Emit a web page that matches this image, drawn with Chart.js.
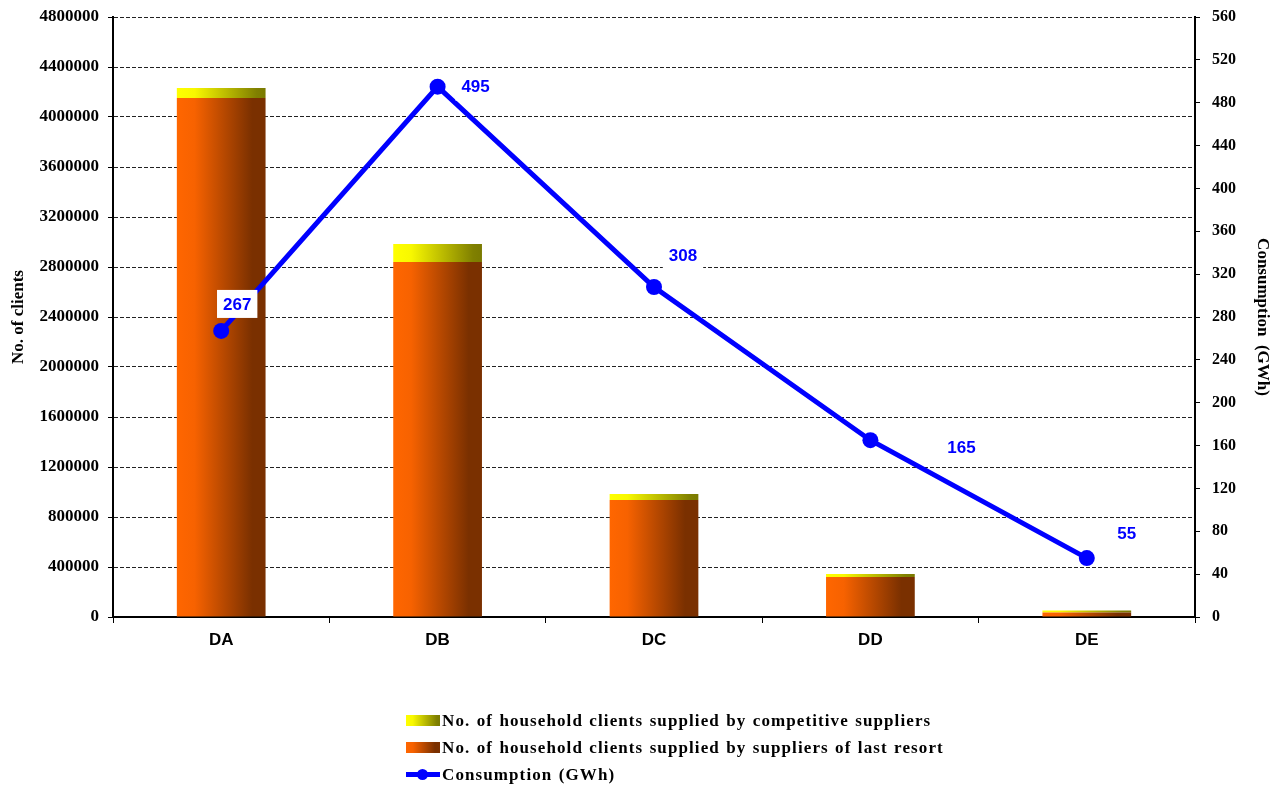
<!DOCTYPE html>
<html>
<head>
<meta charset="utf-8">
<script src="https://cdn.jsdelivr.net/npm/chart.js@4"></script>
<style>
  html, body { margin: 0; padding: 0; background: #fff; }
  #wrap { position: relative; width: 1285px; height: 787px; }
  #legend {
    position: absolute; left: 406px; top: 707px;
    font: bold 17px "Liberation Serif", "Times New Roman", serif; color: #000;
    letter-spacing: 1.1px; word-spacing: 1px; white-space: nowrap;
  }
  .item { display: flex; align-items: center; height: 27px; }
  .box { width: 34px; height: 11px; margin-right: 2px; }
  .lineKey { width: 34px; height: 11px; margin-right: 2px; position: relative; }
  .lineKey::before { content: ""; position: absolute; left: 0; right: 0; top: 3px; height: 5px; background: #0000ff; }
  .lineKey::after { content: ""; position: absolute; left: 11px; top: 0; width: 11px; height: 11px; border-radius: 50%; background: #0000ff; }
</style>
</head>
<body>
<div id="wrap">
  <canvas id="chart" width="1285" height="787"></canvas>
  <div id="legend">
    <div class="item"><span class="box" style="background:linear-gradient(to right,#ffff00 0%,#f8f800 20%,#808000 90%,#7a7a00 100%)"></span>No. of household clients supplied by competitive suppliers</div>
    <div class="item"><span class="box" style="background:linear-gradient(to right,#ff6600 0%,#f76200 20%,#7a3000 85%,#7a3000 100%)"></span>No. of household clients supplied by suppliers of last resort</div>
    <div class="item"><span class="lineKey"></span>Consumption (GWh)</div>
  </div>
</div>
<script>
  // ---------- Data ----------
  const regions = ["DA", "DB", "DC", "DD", "DE"];
  const lastResortClients = [4152000, 2840000, 936000, 320000, 36000];
  const competitiveClients = [80000, 144000, 48000, 24000, 16000];
  const consumptionGWh = [267, 495, 308, 165, 55];

  // label offsets for the consumption values (px from the point)
  const labelOffsets = [[16, -27], [38, 0], [29, -32], [91, 7], [40, -25]];

  const BAR_PCT = 0.41;
  const serif = '"Liberation Serif", "Times New Roman", serif';
  const sans = '"Liberation Sans", Arial, sans-serif';

  // horizontal gradient across each bar
  function barGradient(stops) {
    return ctx => {
      const chart = ctx.chart;
      const xs = chart.scales.x;
      if (!chart.chartArea || !xs || ctx.dataIndex == null) return stops[0][1];
      const c = xs.getPixelForValue(ctx.dataIndex);
      const half = (xs.width / regions.length) * BAR_PCT / 2;
      const g = chart.ctx.createLinearGradient(c - half, 0, c + half, 0);
      stops.forEach(s => g.addColorStop(s[0], s[1]));
      return g;
    };
  }

  const orangeStops = [[0, '#ff6600'], [0.2, '#f76200'], [0.85, '#7a3000'], [1, '#7a3000']];
  const yellowStops = [[0, '#ffff00'], [0.2, '#f8f800'], [0.9, '#808000'], [1, '#7a7a00']];

  // value labels with white box behind them
  const valueLabels = {
    id: 'valueLabels',
    afterDatasetsDraw(chart) {
      const meta = chart.getDatasetMeta(2);
      const c = chart.ctx;
      c.save();
      c.font = 'bold 17px ' + sans;
      c.textAlign = 'center';
      c.textBaseline = 'middle';
      meta.data.forEach((pt, i) => {
        const txt = String(consumptionGWh[i]);
        const x = pt.x + labelOffsets[i][0];
        const y = pt.y + labelOffsets[i][1];
        const w = c.measureText(txt).width + 12;
        c.fillStyle = '#fff';
        c.fillRect(x - w / 2, y - 14, w, 28);
        c.fillStyle = '#0000ff';
        c.fillText(txt, x, y + 1);
      });
      c.restore();
    }
  };

  // fixed axis sizes so the plot area sits where the original one does
  function fixVertical(width) {
    return s => { s.width = width; s.paddingTop = 0; s.paddingBottom = 0; };
  }

  new Chart(document.getElementById('chart'), {
    data: {
      labels: regions,
      datasets: [
        {
          type: 'bar',
          label: 'No. of household clients supplied by suppliers of last resort',
          data: lastResortClients,
          backgroundColor: barGradient(orangeStops),
          borderWidth: 0,
          categoryPercentage: 1,
          barPercentage: BAR_PCT,
          yAxisID: 'y',
          order: 2
        },
        {
          type: 'bar',
          label: 'No. of household clients supplied by competitive suppliers',
          data: competitiveClients,
          backgroundColor: barGradient(yellowStops),
          borderWidth: 0,
          categoryPercentage: 1,
          barPercentage: BAR_PCT,
          yAxisID: 'y',
          order: 2
        },
        {
          type: 'line',
          label: 'Consumption (GWh)',
          data: consumptionGWh,
          borderColor: '#0000ff',
          backgroundColor: '#0000ff',
          borderWidth: 5,
          pointRadius: 8,
          pointHoverRadius: 8,
          pointBackgroundColor: '#0000ff',
          pointBorderWidth: 0,
          tension: 0,
          yAxisID: 'y1',
          order: 1
        }
      ]
    },
    options: {
      responsive: false,
      animation: false,
      layout: { padding: { top: 17, left: 0, right: 0, bottom: 120 } },
      plugins: {
        legend: { display: false },
        tooltip: { enabled: false }
      },
      scales: {
        x: {
          stacked: true,
          offset: true,
          afterFit: s => { s.height = 50; },
          grid: { offset: true, drawOnChartArea: false, drawTicks: true, tickLength: 6, tickColor: '#000', tickWidth: 1 },
          border: { color: '#000', width: 2 },
          ticks: { color: '#000', padding: 7, font: { family: sans, weight: 'bold', size: 17 } }
        },
        y: {
          stacked: true,
          position: 'left',
          min: 0,
          max: 4800000,
          afterFit: fixVertical(113),
          ticks: {
            stepSize: 400000, color: '#000', padding: 9,
            font: { family: serif, weight: 'bold', size: 17 },
            callback: v => String(v)
          },
          grid: { color: '#222', lineWidth: 1, tickLength: 5, tickColor: '#000', tickBorderDash: [] },
          border: { color: '#000', width: 2, dash: [4, 2] },
          title: { display: true, text: 'No. of clients', color: '#000', padding: { top: 8, bottom: 4 }, font: { family: serif, weight: 'bold', size: 17 } }
        },
        y1: {
          position: 'right',
          min: 0,
          max: 560,
          afterFit: fixVertical(90),
          ticks: { stepSize: 40, color: '#000', padding: 12, font: { family: serif, weight: 'bold', size: 16 }, callback: v => String(v) },
          grid: { drawOnChartArea: false, tickLength: 5, tickColor: '#000' },
          border: { color: '#000', width: 2 },
          title: { display: true, text: 'Consumption  (GWh)', color: '#000', padding: { top: 12, bottom: 4 }, font: { family: serif, weight: 'bold', size: 17 } }
        }
      }
    },
    plugins: [valueLabels]
  });
</script>
</body>
</html>
